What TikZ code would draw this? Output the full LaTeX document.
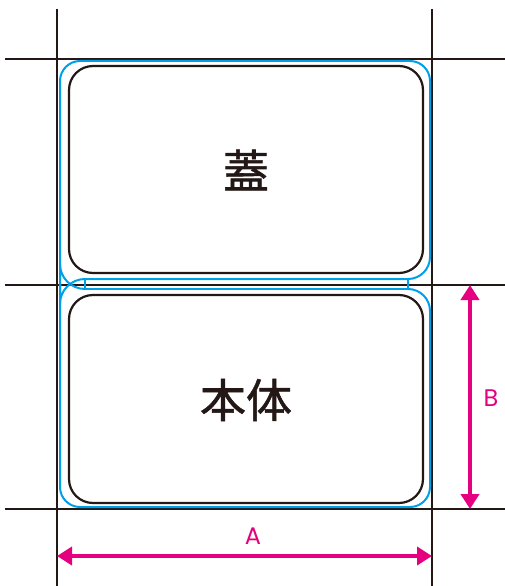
\documentclass[tikz,border=0pt]{standalone}
\usepackage{fontspec}
\setsansfont{Poppins}
\newfontfamily\cjk[FakeBold=1.2]{Noto Sans CJK JP}
\usetikzlibrary{arrows.meta}
\definecolor{cutblue}{HTML}{00A0E9}
\definecolor{dimmag}{HTML}{E4007F}
\definecolor{inkblack}{HTML}{231815}
\tikzset{
  cropline/.style={draw=inkblack, line width=2.2pt},
  outline/.style={draw=cutblue, line width=2pt},
  boxline/.style={draw=inkblack, line width=2.2pt, rounded corners=24pt},
  dimarrow/.style={draw=dimmag, line width=3.8pt, {Triangle[length=15pt,width=18pt]}-{Triangle[length=15pt,width=18pt]}},
  dimlabel/.style={text=dimmag, font=\sffamily\fontsize{24}{26}\selectfont, inner sep=0pt},
  cjklabel/.style={text=inkblack, font=\cjk\fontsize{46}{50}\selectfont, inner sep=0pt}
}
\begin{document}
\begin{tikzpicture}[x=1pt,y=-1pt]
\useasboundingbox (0,0) rectangle (505,586);
% crop lines
\coordinate (vl1) at (57,9);   \coordinate (vl2) at (57,586);
\coordinate (vr1) at (432,9);  \coordinate (vr2) at (432,586);
\coordinate (ht1) at (5,59);   \coordinate (ht2) at (505,59);
\coordinate (hm1) at (5,285);  \coordinate (hm2) at (505,285);
\coordinate (hb1) at (5,509);  \coordinate (hb2) at (505,509);
\draw[cropline] (vl1) -- (vl2);
\draw[cropline] (vr1) -- (vr2);
\draw[cropline] (ht1) -- (ht2);
\draw[cropline] (hm1) -- (hm2);
\draw[cropline] (hb1) -- (hb2);
% blue outline: lid
\draw[outline] (85,279) arc[start angle=90, end angle=180, radius=25pt]
  -- (60,81) arc[start angle=180, end angle=90, radius=20pt]
  -- (410,61) arc[start angle=90, end angle=0, radius=20pt]
  -- (430,257) arc[start angle=0, end angle=-90, radius=22pt]
  -- cycle;
% hinge
\draw[outline] (85,279) -- (85,289) -- (408,289) -- (408,279);
% blue outline: body
\draw[outline] (85,289) arc[start angle=-90, end angle=-180, radius=25pt]
  -- (60,487) arc[start angle=180, end angle=270, radius=20pt]
  -- (410,507) arc[start angle=270, end angle=360, radius=20pt]
  -- (430,311) arc[start angle=0, end angle=90, radius=22pt];
% inner black boxes
\draw[boxline] (69,66) rectangle (423,273);
\draw[boxline] (69,295) rectangle (423,503);
\node[cjklabel] (lid) at (246,170) {蓋};
\node[cjklabel] (body) at (246,400) {本体};
% dimensions
\coordinate (bTop) at (470,285);
\coordinate (bBot) at (470,509);
\coordinate (aL) at (57,556);
\coordinate (aR) at (432,556);
\draw[dimarrow] (bTop) -- (bBot);
\draw[dimarrow] (aL) -- (aR);
\node[dimlabel] (labB) at (491,398) {B};
\node[dimlabel] (labA) at (253,536) {A};
\end{tikzpicture}
\end{document}
